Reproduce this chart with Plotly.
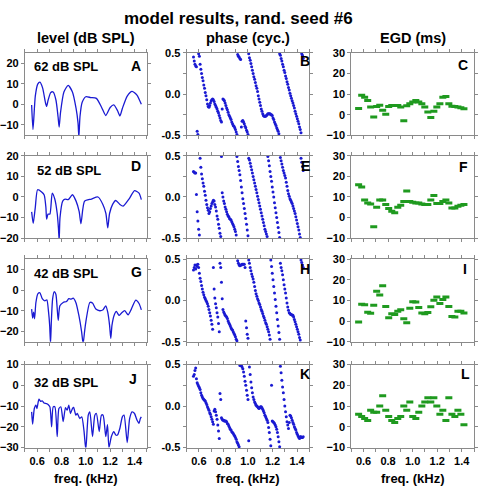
import plotly.graph_objects as go

# ---------------- data ----------------
TITLE = "model results, rand. seed #6"
COL_TITLES = ["level (dB SPL)", "phase (cyc.)", "EGD (ms)"]
STIM_LEVELS = ["62 dB SPL", "52 dB SPL", "42 dB SPL", "32 dB SPL"]
PANEL_LETTERS = [["A", "B", "C"], ["D", "E", "F"], ["G", "H", "I"], ["J", "K", "L"]]
X_TICKS = [0.6, 0.8, 1.0, 1.2, 1.4]
X_TICK_LABELS = ["0.6", "0.8", "1.0", "1.2", "1.4"]
LEVEL_RANGES = [[-15, 25], [-20, 20], [-25, 15], [-30, 10]]
PHASE_TICKS = [-0.5, 0.0, 0.5]
PHASE_TICK_LABELS = ["-0.5", "0.0", "0.5"]
EGD_TICKS = [-10, 0, 10, 20, 30]

# level curves (freq kHz, dB SPL)
lvl62_f = [0.555, 0.566, 0.585, 0.605, 0.623, 0.645, 0.668, 0.678, 0.69, 0.712, 0.732, 0.755, 0.772, 0.781, 0.792,
           0.82, 0.855, 0.89, 0.92, 0.936, 0.943, 0.952, 0.97, 1.0, 1.04, 1.087, 1.13, 1.164, 1.2, 1.23, 1.26, 1.28,
           1.3, 1.34, 1.38, 1.42, 1.456]
lvl62_db = [-0.3, -12.2, 4, 9.8, 10.8, 8, 1, -1, 2, 5.8, 6.0, 2, -6, -11, -4,
            6, 9.2, 6, -2, -9, -16, -6, 1, 3.7, 3.3, 2.9, -1.5, -5.4, -1.5, -0.3, -3, -5.6,
            -2, 4, 6.3, 4.5, 0]

lvl52_f = [0.555, 0.568, 0.585, 0.604, 0.637, 0.658, 0.672, 0.678, 0.69, 0.705, 0.724, 0.745, 0.765, 0.775, 0.781,
           0.788, 0.81, 0.83, 0.855, 0.89, 0.92, 0.945, 0.96, 0.975, 0.99, 1.046, 1.1, 1.14, 1.165, 1.18, 1.195,
           1.22, 1.246, 1.28, 1.306, 1.36, 1.40, 1.437, 1.456]
lvl52_db = [-7.2, -12.8, -5, 3.5, 2.4, 1, -5, -10.7, -8.3, -8.3, 1.9, -1, -8, -15, -21,
            -10, -2, -1, -1.3, 1.1, -2, -7, -13, -6, -2, -1, 0, -3.6, -8, -15, -8,
            -3.6, -1.7, -3.6, -4.4, -0.5, 3.1, 1.9, -1.3]

lvl42_f = [0.555, 0.563, 0.571, 0.579, 0.59, 0.607, 0.623, 0.642, 0.664, 0.68, 0.694, 0.703, 0.71, 0.717, 0.727,
           0.74, 0.754, 0.773, 0.787, 0.814, 0.842, 0.86, 0.877, 0.896, 0.918, 0.943, 0.965, 0.978, 0.99, 1.0, 1.033,
           1.055, 1.082, 1.115, 1.142, 1.164, 1.18, 1.195, 1.205, 1.215, 1.232, 1.25, 1.273, 1.292, 1.32, 1.347,
           1.374, 1.41, 1.437, 1.456]
lvl42_db = [-9.2, -13.6, -10.7, -13.9, -6, -1.7, -1.3, -4.1, -5.2, -4.7, -10.7, -17, -26, -15, -4.4,
            -0.8, -2, -14.7, -7.6, -6, -5.5, -4.1, -4.4, -3.9, -6, -12.3, -20, -26, -20, -15.5, -6,
            -6.3, -9.2, -10, -9.5, -7.6, -10.7, -17, -23.4, -17, -12.3, -10.3, -12.3, -11.2, -10, -12,
            -9.2, -4.9, -6.5, -9.6]

lvl32_f = [0.555, 0.563, 0.577, 0.59, 0.598, 0.615, 0.628, 0.642, 0.656, 0.678, 0.69, 0.705, 0.719, 0.732, 0.746,
           0.765, 0.779, 0.795, 0.814, 0.833, 0.847, 0.86, 0.874, 0.89, 0.9, 0.918, 0.93, 0.95, 0.967, 0.985, 1.0,
           1.02, 1.033, 1.055, 1.074, 1.087, 1.11, 1.128, 1.142, 1.164, 1.178, 1.19, 1.21, 1.23, 1.246, 1.26,
           1.28, 1.3, 1.314, 1.34, 1.36, 1.38, 1.40, 1.42, 1.437, 1.448, 1.456]
lvl32_db = [-12.8, -18.7, -11.2, -9.6, -11.2, -6.7, -7.7, -7.5, -8.5, -8.8, -9.3, -10.4, -20, -10.4, -10.4,
            -24.7, -11.2, -10.4, -17.5, -10.8, -12, -9.6, -13.6, -11.2, -10.7, -14.4, -13.6, -16, -15.2, -22, -31,
            -14.4, -12.8, -24.7, -14.4, -13.6, -22.3, -14.4, -14.4, -24.7, -19, -30, -24.7, -22.3, -24, -24,
            -20.7, -15.2, -14.4, -27.6, -16, -12.8, -13.6, -16.7, -18.3, -16, -15.2]

# phase (cycles), one dot per analysis frequency
ph_f = [0.556, 0.562, 0.568, 0.574, 0.580, 0.586, 0.592, 0.598, 0.604, 0.610,
        0.616, 0.622, 0.628, 0.634, 0.640, 0.646, 0.652, 0.658, 0.664, 0.670,
        0.676, 0.682, 0.688, 0.694, 0.700, 0.706, 0.712, 0.718, 0.724, 0.730,
        0.736, 0.742, 0.748, 0.754, 0.760, 0.766, 0.772, 0.778, 0.784, 0.790,
        0.796, 0.802, 0.808, 0.814, 0.820, 0.826, 0.832, 0.838, 0.844, 0.850,
        0.856, 0.862, 0.868, 0.874, 0.880, 0.886, 0.892, 0.898, 0.904, 0.910,
        0.916, 0.922, 0.928, 0.934, 0.940, 0.946, 0.952, 0.958, 0.964, 0.970,
        0.976, 0.982, 0.988, 0.994, 1.000, 1.006, 1.012, 1.018, 1.024, 1.030,
        1.036, 1.042, 1.048, 1.054, 1.060, 1.066, 1.072, 1.078, 1.084, 1.090,
        1.096, 1.102, 1.108, 1.114, 1.120, 1.126, 1.132, 1.138, 1.144, 1.150,
        1.156, 1.162, 1.168, 1.174, 1.180, 1.186, 1.192, 1.198, 1.204, 1.210,
        1.216, 1.222, 1.228, 1.234, 1.240, 1.246, 1.252, 1.258, 1.264, 1.270,
        1.276, 1.282, 1.288, 1.294, 1.300, 1.306, 1.312, 1.318, 1.324, 1.330,
        1.336, 1.342, 1.348, 1.354, 1.360, 1.366, 1.372, 1.378, 1.384, 1.390,
        1.396, 1.402, 1.408, 1.414, 1.420, 1.426, 1.432, 1.438, 1.444, 1.450]

phB = [0.45, 0.40, 0.36, 0.34, 0.33, -0.45, -0.49, 0.49, 0.46, 0.36,
       0.30, 0.25, 0.20, 0.16, 0.11, 0.07, 0.02, -0.02, -0.07, -0.12,
       -0.15, -0.16, -0.14, -0.11, -0.08, -0.07, -0.06, -0.07, -0.09, -0.12,
       -0.14, -0.16, -0.18, -0.21, -0.23, -0.26, -0.29, -0.32, -0.34, -0.18,
       -0.06, -0.07, -0.08, -0.11, -0.14, -0.17, -0.19, -0.22, -0.25, -0.27,
       -0.29, -0.31, -0.34, -0.36, -0.38, -0.39, -0.41, -0.43, -0.46, -0.49,
       0.48, 0.46, 0.45, 0.43, 0.42, -0.40, -0.33, -0.32, -0.34, -0.36,
       -0.39, -0.41, -0.44, -0.46, -0.49, 0.49, 0.44, 0.41, 0.37, 0.33,
       0.29, 0.25, 0.21, 0.18, 0.14, 0.10, 0.07, 0.03, -0.02, -0.06,
       -0.10, -0.14, -0.18, -0.21, -0.24, -0.26, -0.27, -0.27, -0.27, -0.26,
       -0.25, -0.24, -0.24, -0.24, -0.24, -0.25, -0.25, -0.26, -0.29, -0.31,
       -0.34, -0.36, -0.38, -0.41, -0.43, -0.45, -0.48, 0.49, 0.47, 0.43,
       0.40, 0.36, 0.33, 0.29, 0.26, 0.22, 0.19, 0.15, 0.12, 0.08,
       0.05, 0.01, -0.02, -0.05, -0.08, -0.11, -0.14, -0.17, -0.21, -0.24,
       -0.27, -0.30, -0.33, -0.36, -0.40, -0.43, -0.47, 0.49, 0.47, 0.43]

phE = [0.31, 0.30, 0.29, 0.29, 0.03, -0.18, -0.29, -0.39, -0.46, 0.47,
       0.36, 0.28, 0.22, 0.17, 0.13, 0.07, 0.02, -0.04, -0.09, -0.13,
       -0.16, -0.20, -0.18, -0.14, -0.11, -0.08, -0.06, -0.04, -0.05, -0.09,
       -0.12, -0.17, -0.23, -0.27, -0.33, -0.38, -0.44, -0.48, 0.49, 0.05,
       0.00, -0.05, -0.08, -0.12, -0.15, -0.18, -0.21, -0.23, -0.24, -0.26,
       -0.27, -0.28, -0.30, -0.32, -0.34, -0.36, -0.39, -0.42, -0.46, 0.49,
       0.43, 0.37, 0.32, 0.27, 0.20, 0.12, 0.05, -0.02, -0.08, -0.14,
       -0.20, -0.26, -0.33, -0.40, -0.47, 0.47, 0.45, 0.41, 0.37, 0.33,
       0.29, 0.25, 0.21, 0.17, 0.13, 0.09, 0.05, 0.01, -0.03, -0.07,
       -0.11, -0.15, -0.19, -0.23, -0.27, -0.31, -0.35, -0.39, -0.42, -0.45,
       -0.48, 0.49, 0.44, 0.38, 0.31, 0.25, 0.19, 0.12, 0.06, 0.00,
       -0.07, -0.13, -0.19, -0.25, -0.31, -0.37, -0.43, -0.49, 0.48, 0.44,
       0.40, 0.36, 0.32, 0.29, 0.26, 0.23, 0.18, 0.13, 0.08, 0.04,
       0.01, -0.02, -0.04, -0.06, -0.08, -0.11, -0.14, -0.17, -0.20, -0.24,
       -0.28, -0.32, -0.36, -0.40, -0.45, -0.49, 0.47, 0.42, 0.37, 0.32]

phH = [0.37, 0.40, 0.43, 0.38, 0.43, 0.41, 0.44, 0.40, 0.33, 0.27,
       0.23, 0.18, 0.14, 0.10, 0.07, 0.04, 0.02, 0.00, -0.02, -0.04,
       -0.07, -0.11, -0.15, -0.19, -0.24, -0.29, -0.35, 0.40, 0.14, 0.03,
       -0.04, -0.09, -0.15, -0.20, -0.28, -0.38, 0.45, 0.40, 0.22, 0.02,
       -0.11, -0.14, -0.16, -0.18, -0.19, -0.20, -0.22, -0.25, -0.27, -0.29,
       -0.31, -0.33, -0.35, -0.36, -0.38, -0.40, -0.42, -0.44, -0.47, -0.49,
       0.48, 0.45, 0.43, 0.42, 0.43, 0.43, 0.44, 0.44, 0.44, 0.44,
       0.40, -0.25, -0.33, -0.41, -0.46, 0.49, 0.45, 0.40, 0.36, 0.32,
       0.29, 0.26, 0.22, 0.17, 0.12, 0.08, 0.05, 0.02, 0.00, -0.03,
       -0.05, -0.08, -0.11, -0.13, -0.16, -0.19, -0.21, -0.24, -0.27, -0.29,
       -0.32, -0.35, -0.38, -0.42, -0.47, 0.49, 0.41, 0.33, 0.25, 0.17,
       0.09, 0.01, -0.07, -0.15, -0.23, -0.31, -0.39, -0.47, 0.45, 0.40,
       0.36, 0.31, 0.25, 0.19, 0.14, 0.09, 0.03, -0.03, -0.08, -0.12,
       -0.15, -0.16, -0.17, -0.17, -0.18, -0.18, -0.20, -0.23, -0.26, -0.29,
       -0.32, -0.35, -0.38, -0.41, -0.45, -0.48, 0.49, 0.46, 0.43, 0.40]

phK = [0.36, 0.38, 0.43, 0.46, 0.33, 0.28, 0.26, 0.24, 0.22, 0.20,
       0.16, 0.13, 0.11, 0.09, 0.08, 0.07, 0.06, 0.04, 0.02, -0.01,
       -0.03, -0.05, -0.08, -0.10, -0.13, -0.16, -0.19, -0.22, -0.06, -0.04,
       -0.07, -0.11, -0.16, -0.23, -0.30, -0.39, 0.15, 0.08, -0.14, -0.16,
       -0.17, -0.17, -0.18, -0.18, -0.18, -0.19, -0.21, -0.22, -0.24, -0.26,
       -0.28, -0.29, -0.31, -0.32, -0.33, -0.35, -0.36, -0.38, -0.40, -0.43,
       -0.45, -0.47, -0.49, 0.49, 0.49, 0.49, 0.47, 0.45, 0.41, 0.36,
       0.30, 0.25, 0.19, 0.13, 0.08, -0.42, 0.47, 0.38, 0.29, 0.22,
       0.16, 0.11, 0.08, 0.05, 0.03, 0.01, 0.00, -0.01, -0.02, -0.03,
       -0.02, -0.01, -0.01, -0.02, -0.04, -0.06, -0.08, -0.11, -0.13, -0.15,
       -0.17, -0.20, -0.26, -0.32, -0.40, -0.48, 0.25, -0.18, -0.19, -0.20,
       -0.21, -0.23, -0.25, -0.28, -0.32, -0.37, -0.43, -0.49, 0.48, 0.40,
       0.31, 0.23, 0.16, 0.08, 0.00, -0.07, -0.13, -0.19, -0.23, -0.27,
       -0.20, -0.11, -0.12, -0.14, -0.17, -0.20, -0.22, -0.25, -0.27, -0.29,
       -0.32, -0.34, -0.36, -0.38, -0.39, -0.37, -0.37, -0.38, -0.38, -0.37]

# EGD (ms)
egd_f = [0.560, 0.585, 0.609, 0.634, 0.658, 0.683, 0.707, 0.732, 0.756, 0.781, 0.805, 0.830, 0.854, 0.879, 0.903,
         0.928, 0.952, 0.977, 1.001, 1.026, 1.050, 1.075, 1.099, 1.124, 1.148, 1.173, 1.197, 1.222, 1.246, 1.271,
         1.295, 1.320, 1.344, 1.369, 1.393, 1.418]
egdC = [3.0, 9.4, 8.5, 6.9, 3.7, -1.1, 4.0, 4.6, 2.1, 0.2, 4.0, 4.5, 4.5, 4.5, 3.7,
        -3.0, 4.3, 5.3, 6.1, 6.9, 6.1, 5.3, 3.7, 1.3, -1.4, 1.6, 3.7, 5.3, 8.5, 8.8,
        5.3, 4.1, 4.0, 3.7, 3.4, 2.9]
egdF = [16.0, 14.9, 8.6, 7.1, 6.6, -4.4, 5.0, 8.6, 8.6, 6.3, 4.4, 3.1, 2.4, 5.0, 6.0,
        7.8, 12.9, 7.8, 7.5, 7.1, 7.1, 6.6, 6.3, 6.3, 8.6, 10.7, 6.8, 6.8, 7.8, 8.6,
        7.1, 4.7, 4.7, 5.5, 6.0, 6.3]
egdI = [-0.5, 8.2, 7.9, 4.3, 3.8, 7.7, 14.5, 12.6, 17.1, 7.1, 1.6, 3.5, 3.2, 4.7, 5.5,
        1.1, -0.8, 6.2, 9.3, 9.2, 6.6, 3.9, 3.5, 4.1, 6.9, 10.1, 11.7, 8.5, 10.4, 11.7,
        7.1, 2.2, 1.9, 4.7, 4.7, 3.9]
egdL = [6.0, 5.0, 4.0, 3.0, 8.0, 7.0, 7.0, 10.0, 15.0, 8.0, 5.0, 3.0, 2.0, 4.0, 5.0,
        10.0, 8.0, 12.0, 5.0, 4.0, 7.0, 10.0, 12.0, 14.0, 12.0, 14.0, 10.0, 6.0, 8.0, 3.0,
        14.0, 6.0, 5.0, 8.0, 6.0, 1.0]

LEVEL_DATA = [(lvl62_f, lvl62_db), (lvl52_f, lvl52_db), (lvl42_f, lvl42_db), (lvl32_f, lvl32_db)]
PHASE_DATA = [phB, phE, phH, phK]
EGD_DATA = [egdC, egdF, egdI, egdL]

# ---------------- layout ----------------
W, H = 478, 494
COL_X = [(25, 147), (187, 310), (352, 475)]
ROW_Y = [(48, 132.5), (153.5, 238), (259.5, 344), (367.5, 452.5)]
FONT = "Liberation Sans, Arial, Helvetica, sans-serif"
FRAME = "#8a8a8a"
BLUE = "#1a1ad2"
GREEN = "#1f9a1f"

fig = go.Figure()


def ax_name(k, kind):
    return kind if k == 1 else f"{kind}{k}"


for r in range(4):
    for c in range(3):
        k = r * 3 + c + 1
        xa = "x" if k == 1 else f"x{k}"
        ya = "y" if k == 1 else f"y{k}"
        if c == 0:
            f, v = LEVEL_DATA[r]
            fig.add_trace(go.Scatter(x=f, y=v, mode="lines",
                                     line=dict(color=BLUE, width=1.3, shape="spline", smoothing=0.6),
                                     xaxis=xa, yaxis=ya, showlegend=False, hoverinfo="skip"))
        elif c == 1:
            fig.add_trace(go.Scatter(x=ph_f, y=PHASE_DATA[r], mode="markers", marker=dict(color=BLUE, size=3),
                                     xaxis=xa, yaxis=ya, showlegend=False, hoverinfo="skip", cliponaxis=False))
        else:
            fig.add_trace(go.Scatter(x=egd_f, y=EGD_DATA[r], mode="markers",
                                     marker=dict(symbol="line-ew", size=5, line=dict(color=GREEN, width=3)),
                                     xaxis=xa, yaxis=ya, showlegend=False, hoverinfo="skip"))

        base = dict(showline=True, linecolor=FRAME, linewidth=1, mirror="ticks", ticks="outside", ticklen=3,
                    tickcolor=FRAME, tickwidth=1, showgrid=False, zeroline=False,
                    tickfont=dict(family=FONT, size=11, color="black", weight="bold"))
        x0, x1 = COL_X[c]
        y0, y1 = ROW_Y[r]
        xaxis = dict(base, domain=[x0 / W, x1 / W], range=[0.5, 1.5], tickvals=X_TICKS, ticktext=X_TICK_LABELS,
                     showticklabels=(r == 3), anchor=ya,
                     minor=dict(dtick=0.1, tick0=0.5, ticks="outside", ticklen=3, tickcolor=FRAME))
        yaxis = dict(base, domain=[1 - y1 / H, 1 - y0 / H], anchor=xa)
        if c == 0:
            yaxis.update(range=LEVEL_RANGES[r], dtick=10, tick0=0)
        elif c == 1:
            yaxis.update(range=[-0.5, 0.5], tickvals=PHASE_TICKS, ticktext=PHASE_TICK_LABELS,
                         minor=dict(dtick=0.25, tick0=0, ticks="outside", ticklen=3, tickcolor=FRAME))
        else:
            yaxis.update(range=[-10, 30], tickvals=EGD_TICKS)
        fig.layout[ax_name(k, "xaxis")] = xaxis
        fig.layout[ax_name(k, "yaxis")] = yaxis

ann = []
ann.append(dict(text=TITLE, x=239 / W, y=1 - 13 / H, xref="paper", yref="paper", showarrow=False,
                font=dict(family=FONT, size=17, color="black", weight="bold"), xanchor="center", yanchor="middle"))
for c in range(3):
    cx = (COL_X[c][0] + COL_X[c][1]) / 2 / W
    ann.append(dict(text=COL_TITLES[c], x=cx, y=1 - 33 / H, xref="paper", yref="paper", showarrow=False,
                    font=dict(family=FONT, size=14.5, color="black", weight="bold"), xanchor="center",
                    yanchor="middle"))
    ann.append(dict(text="freq. (kHz)", x=cx, y=1 - 484 / H, xref="paper", yref="paper", showarrow=False,
                    font=dict(family=FONT, size=13, color="black", weight="bold"), xanchor="center",
                    yanchor="middle"))
LEVEL_LABEL_POS = [(0.06, 0.84), (0.08, 0.82), (0.055, 0.83), (0.06, 0.78)]
LETTER_POS = [[(0.915, 0.84), (0.965, 0.9), (0.91, 0.85)],
              [(0.915, 0.88), (0.965, 0.87), (0.915, 0.865)],
              [(0.915, 0.845), (0.965, 0.88), (0.93, 0.885)],
              [(0.89, 0.83), (0.965, 0.89), (0.93, 0.885)]]
for r in range(4):
    k = r * 3 + 1
    xa = "x" if k == 1 else f"x{k}"
    ya = "y" if k == 1 else f"y{k}"
    px, py = LEVEL_LABEL_POS[r]
    ann.append(dict(text=STIM_LEVELS[r], x=px, y=py, xref=f"{xa} domain", yref=f"{ya} domain", showarrow=False,
                    font=dict(family=FONT, size=13, color="black", weight="bold"), xanchor="left",
                    yanchor="middle"))
    for c in range(3):
        k = r * 3 + c + 1
        xa = "x" if k == 1 else f"x{k}"
        ya = "y" if k == 1 else f"y{k}"
        lx, ly = LETTER_POS[r][c]
        ann.append(dict(text=PANEL_LETTERS[r][c], x=lx, y=ly, xref=f"{xa} domain", yref=f"{ya} domain",
                        showarrow=False, font=dict(family=FONT, size=14, color="black", weight="bold"),
                        xanchor="center", yanchor="middle"))

fig.update_layout(width=W, height=H, margin=dict(l=0, r=0, t=0, b=0), paper_bgcolor="white",
                  plot_bgcolor="white", annotations=ann, showlegend=False)
fig.write_html("out.html", config={"displayModeBar": False, "staticPlot": True},
               post_script="document.body.style.margin='0';document.body.style.overflow='hidden';")
